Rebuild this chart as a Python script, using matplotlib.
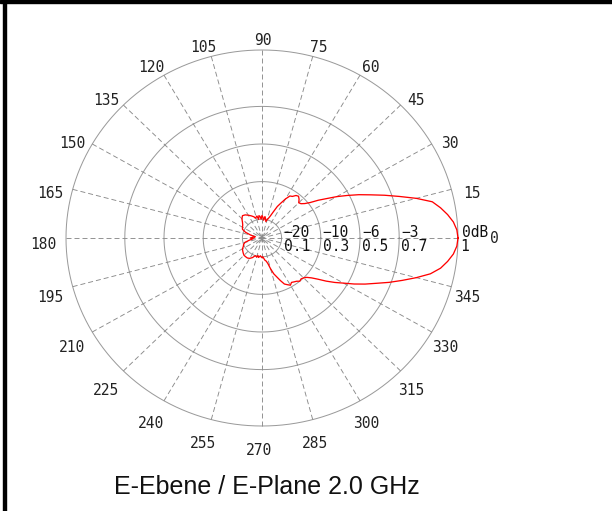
import numpy as np
import matplotlib
matplotlib.use("Agg")
import matplotlib.pyplot as plt
from matplotlib.patches import Rectangle

plt.rcParams['lines.scale_dashes'] = False

# ---- data -------------------------------------------------------------
angles_deg = [0, 2.5, 5, 7.5, 10, 12.5, 15, 17.5, 20, 22.5, 25, 27.5, 30, 32.5, 35, 37.5,
              40, 42.5, 45, 47.5, 50, 52.5, 55, 57.5, 60, 62.5, 65, 67.5, 70, 72.5, 75,
              77.5, 80, 82.5, 85, 87.5, 90, 92.5, 95, 97.5, 100, 102.5, 105, 107.5, 110,
              115, 120, 125, 130, 135, 140, 145, 150, 155, 160, 165, 170, 175, 180, 185,
              190, 195, 200, 205, 210, 215, 220, 225, 230, 235, 240, 245, 250, 255, 257.5,
              260, 262.5, 265, 267.5, 270, 272.5, 275, 277.5, 280, 282.5, 285, 287.5, 290,
              292.5, 295, 297.5, 300, 302.5, 305, 307.5, 310, 312.5, 315, 317.5, 320, 322.5,
              325, 327.5, 330, 332.5, 335, 337.5, 340, 342.5, 345, 347.5, 350, 352.5, 355,
              357.5, 360]
gain_lin = [1.00, 0.995, 0.98, 0.955, 0.925, 0.89, 0.815, 0.735, 0.665, 0.60, 0.545, 0.49,
            0.44, 0.39, 0.35, 0.31, 0.285, 0.27, 0.265, 0.28, 0.29, 0.285, 0.27, 0.265, 0.24,
            0.21, 0.185, 0.15, 0.125, 0.11, 0.10, 0.09, 0.105, 0.115, 0.095, 0.11, 0.12, 0.10,
            0.115, 0.12, 0.10, 0.12, 0.115, 0.11, 0.12, 0.13, 0.14, 0.15, 0.155, 0.145, 0.13,
            0.12, 0.115, 0.11, 0.09, 0.06, 0.035, 0.045, 0.06, 0.045, 0.065, 0.09, 0.10, 0.105,
            0.115, 0.12, 0.125, 0.13, 0.13, 0.13, 0.125, 0.115, 0.10, 0.105, 0.095, 0.105, 0.10,
            0.095, 0.10, 0.105, 0.10, 0.11, 0.12, 0.125, 0.14, 0.17, 0.20, 0.22, 0.245, 0.27,
            0.28, 0.29, 0.28, 0.285, 0.29, 0.30, 0.295, 0.30, 0.31, 0.33, 0.36, 0.40, 0.44,
            0.48, 0.53, 0.58, 0.63, 0.69, 0.75, 0.815, 0.88, 0.925, 0.955, 0.98, 0.995, 1.0]

ring_lin = [0.1, 0.3, 0.5, 0.7, 1.0]
ring_db = ["\u221220", "\u221210", "\u22126", "\u22123", "0dB"]
ring_lin_labels = ["0.1", "0.3", "0.5", "0.7", "1"]
spoke_angles = list(range(0, 360, 15))
title = "E-Ebene / E-Plane 2.0 GHz"

# ---- figure -----------------------------------------------------------
W, H = 612, 511
fig = plt.figure(figsize=(W / 100, H / 100), dpi=100)
cx, cy, rx, ry = 262, 238, 196, 188
ax = fig.add_axes([(cx - rx) / W, (H - cy - ry) / H, 2 * rx / W, 2 * ry / H])
ax.set_xlim(-1, 1)
ax.set_ylim(-1, 1)
ax.axis('off')

px = 0.72  # points per pixel
grid_col = '#9a9a9a'
t = np.radians(np.arange(0, 360.5, 0.5))
for r in ring_lin:
    ax.plot(r * np.cos(t), r * np.sin(t), color=grid_col, lw=1.0 * px, clip_on=False)

for a in spoke_angles:
    ar = np.radians(a)
    ax.plot([np.cos(ar), 0.0], [np.sin(ar), 0.0], color='#8a8a8a', lw=0.9 * px,
            linestyle=(0, (5 * px, 3 * px)), clip_on=False)

# pattern
th = np.radians(angles_deg)
g = np.array(gain_lin)
ax.plot(g * np.cos(th), g * np.sin(th), color='#ff0000', lw=1.3 * px, clip_on=False, zorder=5)

mono = 'DejaVu Sans Mono'
fs = 10.5
# angle labels
for a in spoke_angles:
    if a == 0:
        continue
    ar = np.radians(a)
    dy = -9 if np.sin(ar) > 0.01 else -6
    ax.annotate(str(a), xy=(1.1 * np.cos(ar), 1.1 * np.sin(ar)),
                xytext=(10 * px, dy * px), textcoords='offset points',
                ha='right', va='center', family=mono, fontsize=fs, color='#222222',
                annotation_clip=False)
ax.annotate("0", xy=(1.0, 0.0), xytext=(36 * px, 0), textcoords='offset points',
            ha='center', va='center', family=mono, fontsize=fs, color='#222222',
            annotation_clip=False)

# ring labels
for r, dbl, ll in zip(ring_lin, ring_db, ring_lin_labels):
    off = 2 if r < 1 else 4
    ax.annotate(dbl, xy=(r, 0), xytext=(off * px, 6 * px), textcoords='offset points',
                ha='left', va='center', family=mono, fontsize=fs, color='#111111',
                annotation_clip=False, zorder=6)
    ax.annotate(ll, xy=(r, 0), xytext=((off if r < 1 else 2) * px, -8.5 * px),
                textcoords='offset points', ha='left', va='center', family=mono,
                fontsize=fs, color='#111111', annotation_clip=False, zorder=6)

fig.text(267 / W, 1 - 486.5 / H, title, ha='center', va='center',
         family='Liberation Sans', fontsize=18, color='#111111')

# frame lines
fig.patches.append(Rectangle((0, 1 - 3 / H), 1, 3 / H, transform=fig.transFigure,
                             color='black', zorder=10))
fig.patches.append(Rectangle((3 / W, 0), 3 / W, 1, transform=fig.transFigure,
                             color='black', zorder=10))

fig.savefig('out.png', dpi=100)
